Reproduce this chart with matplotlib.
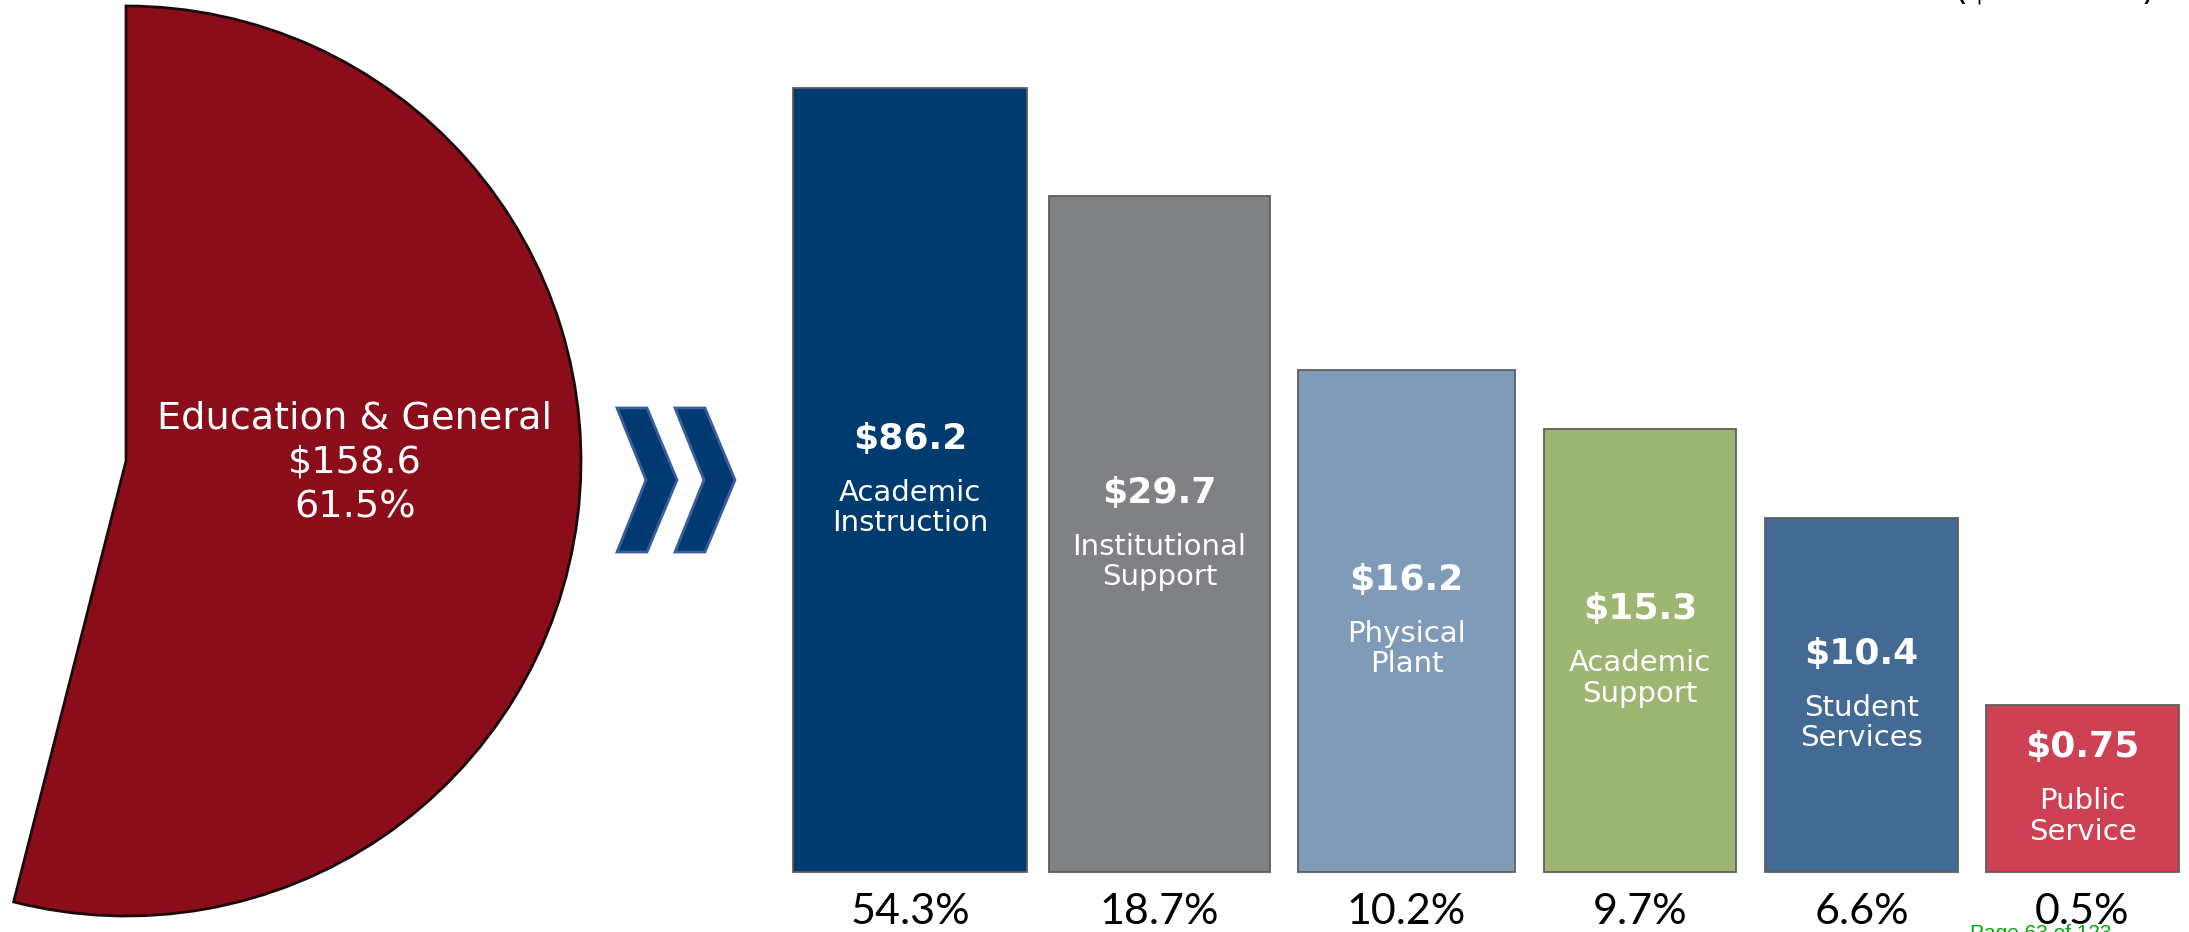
import numpy as np
import matplotlib
matplotlib.use("Agg")
import matplotlib.pyplot as plt
from matplotlib.patches import Polygon

# ---- data ----
eg_label = "Education & General"
eg_value = "$158.6"
eg_pct = "61.5%"
eg_span_deg = 194.3          # visible angle of the E&G slice

categories = ["Academic\nInstruction", "Institutional\nSupport", "Physical\nPlant",
              "Academic\nSupport", "Student\nServices", "Public\nService"]
values = ["$86.2", "$29.7", "$16.2", "$15.3", "$10.4", "$0.75"]
percents = ["54.3%", "18.7%", "10.2%", "9.7%", "6.6%", "0.5%"]
bar_heights = [784, 676, 502, 443, 354, 167]   # drawn heights (not to scale)
colors = ["#003b6f", "#808184", "#7f9bb7", "#9db672", "#426a93", "#cd4152"]

# ---- layout (pixel units, y up) ----
W, H = 2189, 932
bar_left = [793, 1049, 1298, 1544, 1765, 1986]
bar_right = [1027, 1270, 1515, 1736, 1958, 2179]
base = 60

fig = plt.figure(figsize=(W / 100, H / 100), dpi=100)
ax = fig.add_axes([0, 0, 1, 1])

# E&G slice
wedges, _ = ax.pie([eg_span_deg, 360 - eg_span_deg], colors=["#8c0d1a", "none"],
                   startangle=90, counterclock=False, center=(126, 471), radius=455,
                   frame=True, wedgeprops=dict(edgecolor="#1a0a0a", linewidth=2))
wedges[1].set_visible(False)
ax.text(355, 469, eg_label + "\n" + eg_value + "\n" + eg_pct, ha="center", va="center",
        color="white", fontsize=27.5, family="DejaVu Sans", linespacing=1.3)

# chevrons
chev = np.array([[0, 0], [30, 0], [60, -72], [30, -144], [0, -144], [29, -72]], dtype=float)
for dx in [617, 675]:
    pts = chev + [dx, 0]
    pts[:, 1] = (H - 408) + pts[:, 1]
    ax.add_patch(Polygon(pts, closed=True, facecolor="#003a70", edgecolor="#3b5d9c", lw=2))

# bars
lefts = np.array(bar_left)
widths = np.array(bar_right) - lefts
centers = lefts + widths / 2
ax.bar(centers, bar_heights, width=widths, bottom=base, color=colors,
       edgecolor="#5e5e5e", linewidth=1.3)

for cx, h, v, c, p in zip(centers, bar_heights, values, categories, percents):
    mid = base + h / 2
    ax.text(cx, mid + 41, v, ha="center", va="center", color="white",
            fontsize=26, fontweight="bold", family="DejaVu Sans")
    ax.text(cx, mid - 28, c, ha="center", va="center", color="white",
            fontsize=21, family="DejaVu Sans", linespacing=1.12)
    ax.text(cx, 8, p, ha="center", va="baseline", color="black",
            fontsize=31, family=["Lato", "DejaVu Sans"])

# cut-off annotations at the edges
ax.text(2055, H - 5, "($ millions)", ha="center", va="bottom", fontsize=26,
        family="DejaVu Sans", color="black")
ax.text(2041, 8, "Page 63 of 123", ha="center", va="top", fontsize=15,
        family=["Liberation Sans", "DejaVu Sans"], color="#00a800")

ax.set_xlim(0, W)
ax.set_ylim(0, H)
ax.set_aspect("auto")
ax.axis("off")

fig.savefig("out.png", dpi=100)
